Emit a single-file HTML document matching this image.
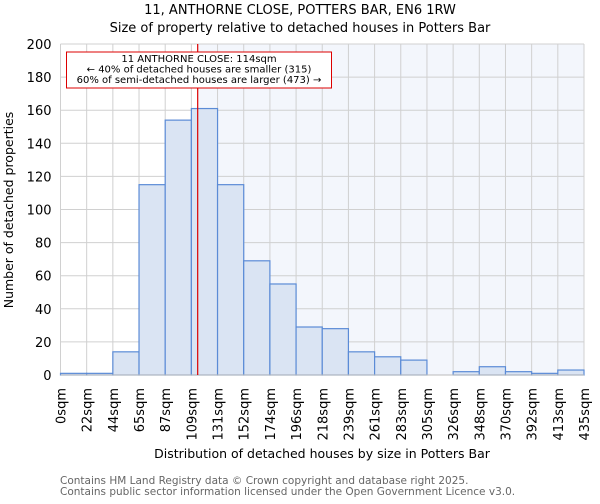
<!DOCTYPE html>
<html><head><meta charset="utf-8"><style>
body{margin:0;background:#fff;font-family:"DejaVu Sans","Liberation Sans",sans-serif;}
svg text{font-family:"DejaVu Sans","Liberation Sans",sans-serif;}
</style></head><body>
<svg id="chart" width="600" height="500" xmlns="http://www.w3.org/2000/svg">
<text x="300" y="14" text-anchor="middle" font-size="13">11, ANTHORNE CLOSE, POTTERS BAR, EN6 1RW</text>
<text x="300" y="32" text-anchor="middle" font-size="13">Size of property relative to detached houses in Potters Bar</text>
<g id="plot"></g>
<text x="322" y="458" text-anchor="middle" font-size="12.5">Distribution of detached houses by size in Potters Bar</text>
<text transform="translate(13,210) rotate(-90)" text-anchor="middle" font-size="12.5">Number of detached properties</text>
<text x="60" y="484" font-size="10.5" fill="#666">Contains HM Land Registry data © Crown copyright and database right 2025.</text>
<text x="60" y="495" font-size="10.5" fill="#666">Contains public sector information licensed under the Open Government Licence v3.0.</text>
</svg>
<script>
const binEdges=[0,22,44,65,87,109,131,152,174,196,218,239,261,283,305,326,348,370,392,413,435];
const counts=[1,1,14,115,154,161,115,69,55,29,28,14,11,9,0,2,5,2,1,3];
const yTicks=[0,20,40,60,80,100,120,140,160,180,200];
const subjectSize=114;
const L=60.5,R=584,T=44,B=375,maxSqm=435,maxY=200;
const n=counts.length, bw=(R-L)/n;
const xi=i=>L+i*bw;
const xs=v=>L+v/maxSqm*(R-L);
const y=v=>B-v/maxY*(B-T);
const NS="http://www.w3.org/2000/svg";
const g=document.getElementById('plot');
function mk(t,a){const e=document.createElementNS(NS,t);for(const k in a)e.setAttribute(k,a[k]);g.appendChild(e);return e;}
const rx=xs(subjectSize);
let e=mk('rect',{x:rx,y:T,width:R-rx,height:B-T,fill:'#f3f6fc'});


for(let i=0;i<=n;i++){e=mk('line',{x1:xi(i),x2:xi(i),y1:T,y2:B,stroke:'#d0d0d0','stroke-width':1});

}
yTicks.forEach(t=>{e=mk('line',{x1:L,x2:R,y1:y(t),y2:y(t),stroke:'#d0d0d0','stroke-width':1});


e=mk('text',{x:L-9,y:y(t)+5,'text-anchor':'end','font-size':'13'});e.textContent=t;

});
counts.forEach((c,i)=>{e=mk('rect',{x:xi(i),y:y(c),width:bw,height:B-y(c),fill:'#dae4f3',stroke:'#5b8bd6','stroke-width':1.2});

});
e=mk('line',{x1:L,x2:R,y1:B,y2:B,stroke:'#bbb','stroke-width':1});


binEdges.forEach((b,i)=>{e=mk('text',{transform:`translate(${xi(i)+5},${388}) rotate(-90)`,'text-anchor':'end','font-size':'13'});e.textContent=b+'sqm';

});
e=mk('line',{x1:rx,x2:rx,y1:T,y2:B,stroke:'#dd0000','stroke-width':1.2});


e=mk('rect',{x:66.5,y:52,width:265,height:36,fill:'#fff',stroke:'#dd0000','stroke-width':1});


['11 ANTHORNE CLOSE: 114sqm','← 40% of detached houses are smaller (315)','60% of semi-detached houses are larger (473) →'].forEach((s,k)=>{
e=mk('text',{x:199,y:62+k*10.5,'text-anchor':'middle','font-size':'10'});e.textContent=s;

});
</script>
</body></html>
